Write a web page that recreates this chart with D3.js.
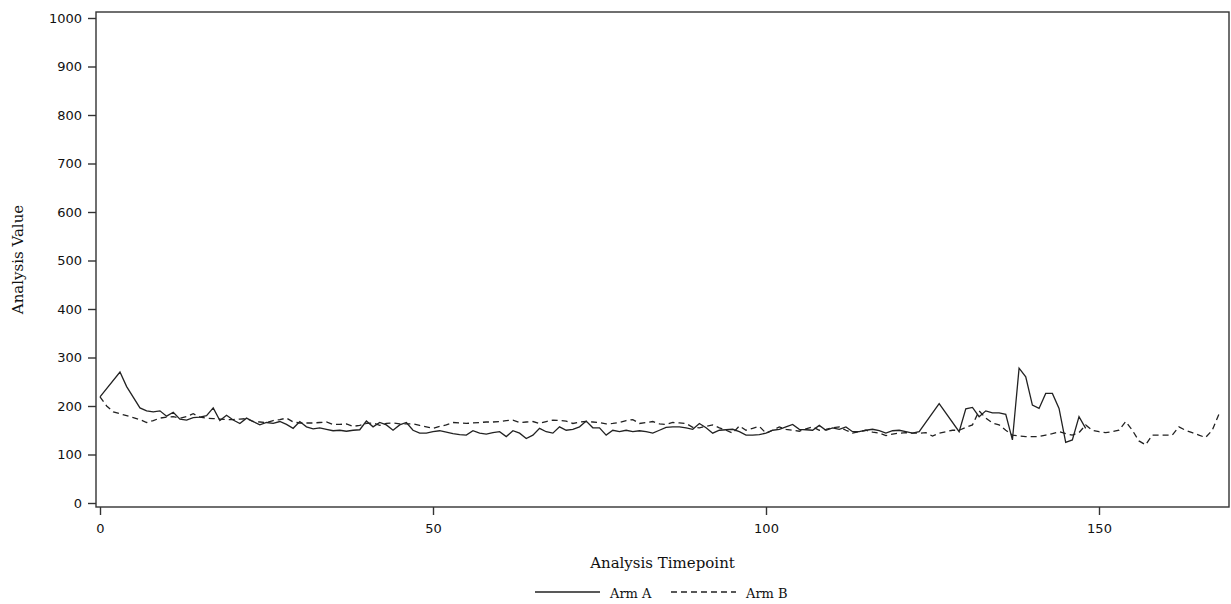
<!DOCTYPE html>
<html lang="en">
<head>
<meta charset="UTF-8">
<title>Analysis Value by Timepoint</title>
<script src="https://d3js.org/d3.v7.min.js"></script>
<style>
  body { margin: 0; background: #fff; }
  svg { display: block; }
</style>
</head>
<body>
<svg id="canvas"></svg>
<script>
// values
let armATime = [0,3,4,6,7,8,9,10,11,12,13,14,15,16,17,18,19,20,21,22,23,24,25,26,27,28,29,30,
  31,32,33,34,35,36,37,38,39,40,41,42,43,44,45,46,47,48,49,50,51,52,53,54,55,56,57,58,59,60,
  61,62,63,64,65,66,67,68,69,70,71,72,73,74,75,76,77,78,79,80,81,82,83,84,85,86,87,88,89,90,
  91,92,93,94,95,96,97,98,99,100,101,102,103,104,105,106,107,108,109,110,111,112,113,114,115,
  116,117,118,119,120,121,122,123,126,129,130,131,132,133,134,135,136,137,138,139,140,141,142,
  143,144,145,146,147,148]
let armAValue = [219,270,240,196,190,188,190,179,187,173,171,176,177,180,196,170,181,171,164,175,168,161,166,164,168,162,154,168,
  157,153,155,152,149,150,148,150,151,169,157,166,161,150,161,166,150,144,144,147,149,146,143,141,140,149,144,142,145,147,
  137,149,144,133,140,154,147,144,157,150,152,157,169,155,155,140,150,147,150,147,149,147,144,150,156,157,157,155,152,164,
  155,144,150,151,152,147,140,140,141,144,150,152,157,162,152,151,150,160,150,155,152,157,147,147,150,
  152,149,144,149,150,147,144,147,205,147,194,197,178,190,186,186,183,130,278,260,202,195,226,
  226,195,125,130,178,154]

let armBValue = [219,200,188,184,180,176,172,166,170,175,177,178,175,178,184,177,175,174,173,172,
  172,173,174,168,167,166,170,172,175,167,165,165,165,166,167,162,162,163,158,160,
  164,165,160,164,165,163,163,163,160,157,154,158,161,166,165,164,165,166,167,167,
  168,170,171,166,167,168,164,168,171,170,169,164,167,168,167,166,163,164,166,170,
  172,164,166,168,163,162,166,165,164,156,155,158,161,155,150,144,159,150,154,158,
  144,150,157,152,150,148,153,157,150,152,155,157,150,144,147,150,146,144,139,142,
  144,145,144,144,145,138,144,147,150,150,156,161,190,175,165,161,150,140,138,137,
  137,137,140,143,147,143,140,145,161,150,147,145,147,150,168,150,128,120,140,140,
  140,140,157,150,145,140,135,150,183]
let armBTime = armBValue.map((v, i) => i)

let yTicks = [0,100,200,300,400,500,600,700,800,900,1000]
let xTicks = [0,50,100,150]
let seriesNames = ['Arm A', 'Arm B']

let width = 1231
let height = 604
let frame = { left: 96, right: 1229, top: 12, bottom: 507 }

let svg = d3.select('#canvas')
  .attr('width', width)
  .attr('height', height)

let xScale = d3.scaleLinear()
  .domain([0, 150])
  .range([100, 1099])

let yScale = d3.scaleLinear()
  .domain([0, 1000])
  .range([503, 18])

let ink = '#222'

// plot frame
svg.append('rect')
  .attr('x', frame.left)
  .attr('y', frame.top)
  .attr('width', frame.right - frame.left)
  .attr('height', frame.bottom - frame.top)
  .attr('fill', 'none')
  .attr('stroke', '#333')
  .attr('stroke-width', 1.4)

let yAxis = d3.axisLeft(yScale).tickValues(yTicks).tickFormat(d3.format('d')).tickSize(8).tickPadding(6)
let xAxis = d3.axisBottom(xScale).tickValues(xTicks).tickFormat(d3.format('d')).tickSize(8).tickPadding(9)

let gy = svg.append('g')
  .attr('transform', 'translate(' + frame.left + ',0)')
  .call(yAxis)
let gx = svg.append('g')
  .attr('transform', 'translate(0,' + frame.bottom + ')')
  .call(xAxis)

;[gx, gy].forEach(g => {
  g.select('.domain').remove()
  g.selectAll('line').attr('stroke', '#333').attr('stroke-width', 1.4)
  g.selectAll('text')
    .attr('fill', '#111')
    .style('font-family', '"DejaVu Sans", sans-serif')
    .style('font-size', '13px')
})

// axis titles
svg.append('text')
  .attr('x', (frame.left + frame.right) / 2)
  .attr('y', 568)
  .attr('text-anchor', 'middle')
  .style('font-family', '"DejaVu Serif", serif')
  .style('font-size', '15px')
  .attr('fill', '#111')
  .text('Analysis Timepoint')

svg.append('text')
  .attr('transform', 'translate(23,' + ((frame.top + frame.bottom) / 2) + ') rotate(-90)')
  .attr('text-anchor', 'middle')
  .style('font-family', '"DejaVu Serif", serif')
  .style('font-size', '15px')
  .attr('fill', '#111')
  .text('Analysis Value')

// series lines
let line = d3.line()
  .x(d => xScale(d[0]))
  .y(d => yScale(d[1]))

let armA = armATime.map((t, i) => [t, armAValue[i]])
let armB = armBTime.map((t, i) => [t, armBValue[i]])

svg.append('path')
  .datum(armB)
  .attr('d', line)
  .attr('fill', 'none')
  .attr('stroke', ink)
  .attr('stroke-width', 1.3)
  .attr('stroke-dasharray', '6,4')

svg.append('path')
  .datum(armA)
  .attr('d', line)
  .attr('fill', 'none')
  .attr('stroke', ink)
  .attr('stroke-width', 1.3)

// legend
let legend = svg.append('g')
let legendItems = [
  { name: seriesNames[0], x0: 535, dash: null },
  { name: seriesNames[1], x0: 671, dash: '6,4' }
]
legendItems.forEach(it => {
  legend.append('line')
    .attr('x1', it.x0).attr('x2', it.x0 + 65)
    .attr('y1', 592).attr('y2', 592)
    .attr('stroke', ink)
    .attr('stroke-width', 1.3)
    .attr('stroke-dasharray', it.dash)
  legend.append('text')
    .attr('x', it.x0 + 75)
    .attr('y', 598)
    .style('font-family', '"DejaVu Serif", serif')
    .style('font-size', '13px')
    .attr('fill', '#111')
    .text(it.name)
})
</script>
</body>
</html>
